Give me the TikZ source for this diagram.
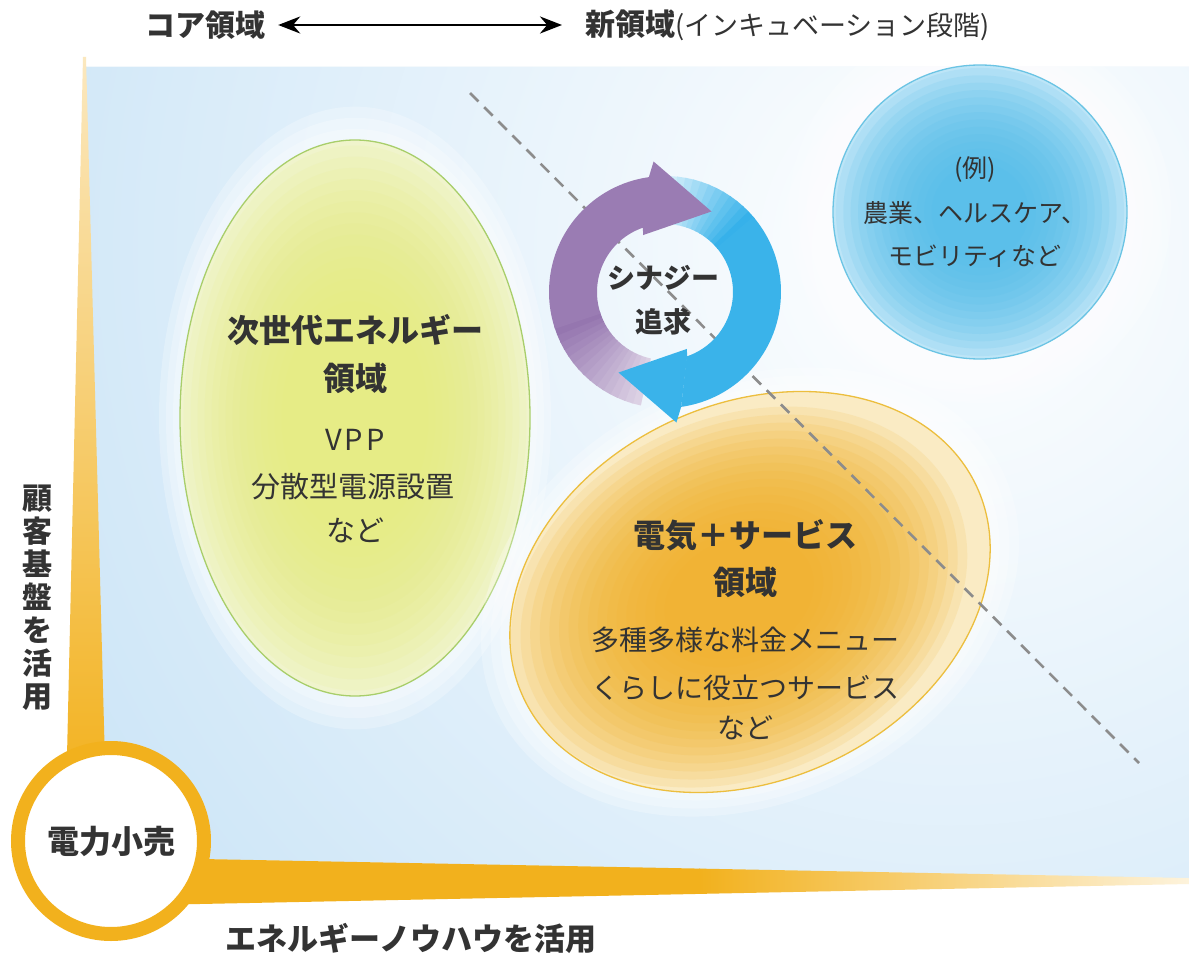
\documentclass[tikz,border=0pt]{standalone}
\usepackage{fontspec}
\setmainfont{Noto Sans CJK JP}
\usetikzlibrary{arrows.meta,calc}
\definecolor{bgblue}{HTML}{C6E2F6}
\definecolor{baryellow}{HTML}{F2B11D}
\definecolor{barpale}{HTML}{FBE8BF}
\definecolor{barfade}{HTML}{FDF3DC}
\definecolor{greenline}{HTML}{A8CE6A}
\definecolor{greenfill}{HTML}{E6EC7C}
\definecolor{greenbase}{HTML}{F0F4CC}
\definecolor{orangeline}{HTML}{ECBE3E}
\definecolor{orangefill}{HTML}{F1B12A}
\definecolor{orangebase}{HTML}{FAEBC4}
\definecolor{cblueline}{HTML}{6BC4E4}
\definecolor{cbluefill}{HTML}{4CBBEA}
\definecolor{cbluepale}{HTML}{BDE5F7}
\definecolor{arrowpurple}{HTML}{9A7CB3}
\definecolor{arrowblue}{HTML}{3AB3EA}
\definecolor{dashgray}{HTML}{8C8C8C}
\definecolor{txtc}{HTML}{333333}
\begin{document}
\begin{tikzpicture}[x=1pt,y=-1pt,
  lbl/.style={text=txtc, inner sep=0pt},
  bold30/.style={font=\bfseries\fontsize{30}{36}\selectfont},
  title32/.style={font=\bfseries\fontsize{32}{38}\selectfont},
  body29/.style={font=\fontsize{29}{34}\selectfont},
  body28/.style={font=\fontsize{28}{34}\selectfont},
  body25/.style={font=\fontsize{25}{30}\selectfont},
  syn/.style={font=\bfseries\fontsize{28}{34}\selectfont}]
\useasboundingbox (0,0) rectangle (1189,955);
\fill[white] (0,0) rectangle (1189,955);

% background field
\begin{scope}
  \clip (86,67) -- (1189,67) -- (1189,878) -- (150,858) -- (104,800) -- cycle;
  \fill[bgblue] (0,0) rectangle (1189,955);
  \shade[inner color=white, outer color=bgblue] (950,250) circle (1150);
\end{scope}

% axis bars
\shade[top color=barpale, bottom color=baryellow] (83,57) -- (86,57) -- (106,800) -- (66,800) -- cycle;
\fill[baryellow] (150,858) -- (700,868.6) -- (700,893.9) -- (150,905) -- cycle;
\shade[left color=baryellow, right color=barfade] (699,868.6) -- (1189,878) -- (1189,884) -- (699,893.9) -- cycle;

% green ellipse
\foreach \s in {1.12,1.08,1.04}
  \fill[white, opacity=0.25] (355,418) ellipse [x radius=175*\s, y radius=278*\s];
\fill[greenbase] (355,418) ellipse [x radius=175, y radius=278];
\foreach \s in {0.98,0.94,...,0.40}
  \fill[greenfill, opacity=0.11] (355,418) ellipse [x radius=175*\s, y radius=278*\s];
\draw[greenline, line width=1.3pt] (355,418) ellipse [x radius=175, y radius=278];

% orange ellipse
\begin{scope}[shift={(750,592)}, rotate=25]
  \foreach \s in {1.12,1.08,1.04}
    \fill[white, opacity=0.25] (0,0) ellipse [x radius=250*\s, y radius=188*\s];
  \fill[orangebase] (0,0) ellipse [x radius=250, y radius=188];
  \foreach \s in {0.95,0.91,...,0.30}
    \fill[orangefill, opacity=0.13] (-12,0) ellipse [x radius=250*\s, y radius=188*\s];
  \draw[orangeline, line width=1.3pt] (0,0) ellipse [x radius=250, y radius=188];
\end{scope}

% blue circle
\foreach \s in {1.3,1.24,...,1.0}
  \fill[white, opacity=0.2] (980,212) circle [radius=147*\s];
\fill[cbluepale] (980,212) circle [radius=147];
\foreach \s in {0.98,0.93,...,0.3}
  \fill[cbluefill, opacity=0.12] (980,212) circle [radius=147*\s];
\draw[cblueline, line width=1.3pt] (980,212) circle [radius=147];

% dashed divider
\coordinate (d1) at (470,93);
\coordinate (d2) at (1139,763);
\draw[dashgray, line width=2.6pt, dash pattern=on 12pt off 8pt] (d1) -- (d2);

% synergy cycle
\begin{scope}[shift={(665,292)}, yscale=-1]
  \foreach \i in {0,...,14}{
    \pgfmathsetmacro\aa{100-4*\i}
    \pgfmathsetmacro\ab{\aa-4.8}
    \pgfmathtruncatemacro\pp{4+\i*7}
    \fill[arrowblue!\pp!white] (\aa:116) arc[start angle=\aa, end angle=\ab, radius=116] -- (\ab:68) arc[start angle=\ab, end angle=\aa, radius=68] -- cycle;
  }
  \fill[arrowblue] (40.5:116) arc[start angle=40.5, end angle=-82, radius=116] -- (-71.4:68) arc[start angle=-71.4, end angle=40.5, radius=68] -- cycle;
  \foreach \i in {0,...,14}{
    \pgfmathsetmacro\aa{258-4*\i}
    \pgfmathsetmacro\ab{\aa-4.8}
    \pgfmathtruncatemacro\pp{35+\i*5}
    \fill[arrowpurple!\pp!white] (\aa:116) arc[start angle=\aa, end angle=\ab, radius=116] -- (\ab:68) arc[start angle=\ab, end angle=\aa, radius=68] -- cycle;
  }
  \fill[arrowpurple] (198.5:116) arc[start angle=198.5, end angle=98, radius=116] -- (95:131) -- (60:93) -- (111:61) -- (109:68) arc[start angle=109, end angle=198.5, radius=68] -- cycle;
  \fill[arrowblue] (-82:116) -- (-85:131) -- (-120:93) -- (-69:61) -- (-71:68) -- cycle;
\end{scope}

% retail circle
\node[circle, draw=baryellow, line width=14pt, fill=white, minimum size=186pt, inner sep=0pt, text=txtc, font=\bfseries\fontsize{32}{38}\selectfont] (retail) at (111,841) {電力小売};

% top axis
\node[lbl, bold30] (core) at (205,25) {コア領域};
\node[lbl, anchor=west] (new) at (585,25) {{\bfseries\fontsize{30}{36}\selectfont 新領域}{\fontsize{27}{32}\selectfont (インキュベーション段階)}};
\draw[line width=2.8pt, {Stealth[length=22pt,width=17pt]}-{Stealth[length=22pt,width=17pt]}, shorten <=13pt, shorten >=23pt] (core.east) -- (new.west);

% side labels
\node[lbl, align=center, font=\bfseries\fontsize{30}{33}\selectfont] (vlabel) at (38,598) {顧\\客\\基\\盤\\を\\活\\用};
\node[lbl, font=\bfseries\fontsize{31}{36}\selectfont] (hlabel) at (411,938) {エネルギーノウハウを活用};

% green texts
\node[lbl, title32] (g1) at (355,330) {次世代エネルギー};
\node[lbl, title32] (g2) at (355,378) {領域};
\node[lbl, body29] (g3) at (355,440) {V\hspace{3pt}P\hspace{3pt}P};
\node[lbl, body29] (g4) at (353,487) {分散型電源設置};
\node[lbl, body29] (g5) at (355,530) {など};

% orange texts
\node[lbl, title32] (o1) at (745,535) {電気＋サービス};
\node[lbl, title32] (o2) at (745,582) {領域};
\node[lbl, body28] (o3) at (745,640) {多種多様な料金メニュー};
\node[lbl, body28] (o4) at (745,688) {くらしに役立つサービス};
\node[lbl, body28] (o5) at (745,728) {など};

% blue circle texts
\node[lbl, body25] (b1) at (975,170) {(例)};
\node[lbl, body25] (b2) at (975,213) {農業、ヘルスケア、};
\node[lbl, body25] (b3) at (975,256) {モビリティなど};

% synergy texts
\node[lbl, syn] (s1) at (663,278) {シナジー};
\node[lbl, syn] (s2) at (663,322) {追求};
\end{tikzpicture}
\end{document}
